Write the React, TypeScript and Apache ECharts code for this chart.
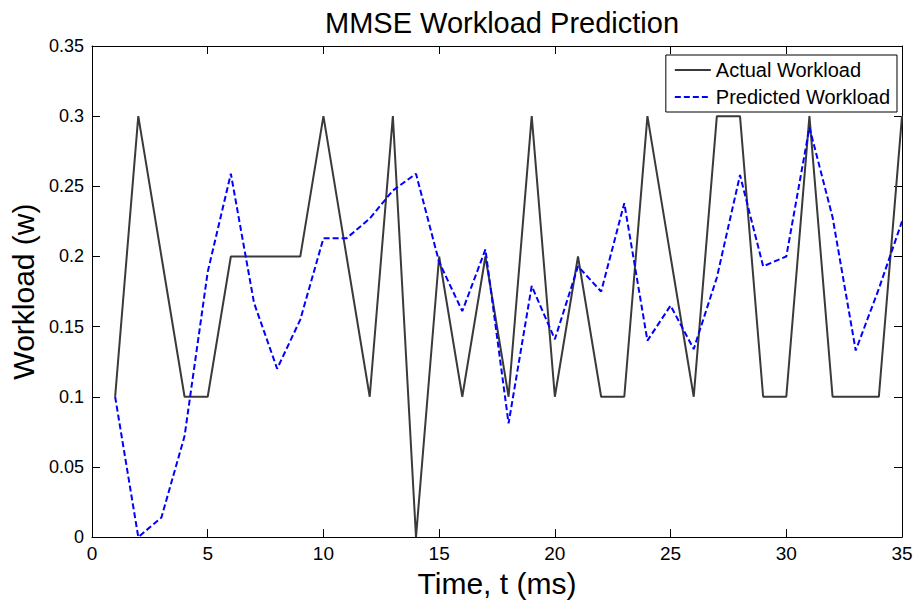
import React, { useEffect, useRef } from "react";
import * as echarts from "echarts";

const times = [1, 2, 3, 4, 5, 6, 7, 8, 9, 10, 11, 12, 13, 14, 15, 16, 17, 18, 19, 20, 21, 22, 23, 24, 25, 26, 27, 28, 29, 30, 31, 32, 33, 34, 35];
const actualWorkload = [0.1, 0.3, 0.2, 0.1, 0.1, 0.2, 0.2, 0.2, 0.2, 0.3, 0.2, 0.1, 0.3, 0.0, 0.2, 0.1, 0.2, 0.1, 0.3, 0.1, 0.2, 0.1, 0.1, 0.3, 0.2, 0.1, 0.3, 0.3, 0.1, 0.1, 0.3, 0.1, 0.1, 0.1, 0.3];
const predictedWorkload = [0.1, 0.0, 0.014, 0.072, 0.189, 0.259, 0.167, 0.12, 0.155, 0.213, 0.213, 0.227, 0.247, 0.259, 0.196, 0.161, 0.205, 0.081, 0.179, 0.141, 0.193, 0.175, 0.238, 0.14, 0.165, 0.134, 0.185, 0.258, 0.193, 0.2, 0.292, 0.228, 0.133, 0.177, 0.225];
const xTicks = [0, 5, 10, 15, 20, 25, 30, 35];
const yTicks = [0, 0.05, 0.1, 0.15, 0.2, 0.25, 0.3, 0.35];

const FONT = "'Liberation Sans', Arial, sans-serif";

export default function App() {
  const ref = useRef<HTMLDivElement>(null);
  useEffect(() => {
    if (!ref.current) return;
    const chart = echarts.init(ref.current, null, { renderer: "svg" });
    const axisCommon = {
      axisLine: { show: true, onZero: false, lineStyle: { color: "#000", width: 1 } },
      axisTick: { show: true, inside: true, length: 8, lineStyle: { color: "#000", width: 1 } },
      splitLine: { show: false },
    };
    const xMin = xTicks[0];
    const xMax = xTicks[xTicks.length - 1];
    const xInt = xTicks[1] - xTicks[0];
    const yMin = yTicks[0];
    const yMax = yTicks[yTicks.length - 1];
    const yInt = yTicks[1] - yTicks[0];
    chart.setOption({
      animation: false,
      backgroundColor: "#fff",
      textStyle: { fontFamily: FONT },
      title: {
        text: "MMSE Workload Prediction",
        left: 497,
        textAlign: "center",
        top: 3,
        textStyle: { fontFamily: FONT, fontSize: 29, fontWeight: "normal", color: "#000" },
      },
      grid: { left: 92, right: 15, top: 46, bottom: 62, containLabel: false },
      legend: {
        orient: "vertical",
        right: 20,
        top: 55,
        padding: [5, 7, 5, 8],
        itemWidth: 36,
        itemHeight: 14,
        itemGap: 7,
        borderColor: "#000",
        borderWidth: 1,
        backgroundColor: "#fff",
        borderRadius: 0,
        itemStyle: { opacity: 0 },
        textStyle: { fontFamily: FONT, fontSize: 20, color: "#000", padding: [0, 0, 0, 0] },
        data: ["Actual Workload", "Predicted Workload"],
      },
      xAxis: [
        {
          type: "value",
          min: xMin,
          max: xMax,
          interval: xInt,
          position: "bottom",
          name: "Time, t (ms)",
          nameLocation: "middle",
          nameGap: 25,
          nameTextStyle: { fontFamily: FONT, fontSize: 30, color: "#000" },
          axisLabel: { fontFamily: FONT, fontSize: 19, color: "#000", margin: 7 },
          ...axisCommon,
        },
        {
          type: "value",
          min: xMin,
          max: xMax,
          interval: xInt,
          position: "top",
          axisLabel: { show: false },
          ...axisCommon,
        },
      ],
      yAxis: [
        {
          type: "value",
          min: yMin,
          max: yMax,
          interval: yInt,
          position: "left",
          name: "Workload (w)",
          nameLocation: "middle",
          nameGap: 53,
          nameTextStyle: { fontFamily: FONT, fontSize: 30, color: "#000" },
          axisLabel: { fontFamily: FONT, fontSize: 18, color: "#000", margin: 8 },
          ...axisCommon,
        },
        {
          type: "value",
          min: yMin,
          max: yMax,
          interval: yInt,
          position: "right",
          axisLabel: { show: false },
          ...axisCommon,
        },
      ],
      series: [
        {
          name: "Actual Workload",
          type: "line",
          data: times.map((t, i) => [t, actualWorkload[i]]),
          symbol: "none",
          lineStyle: { color: "#3a3a3a", width: 2 },
          itemStyle: { color: "#3a3a3a" },
          z: 2,
        },
        {
          name: "Predicted Workload",
          type: "line",
          data: times.map((t, i) => [t, predictedWorkload[i]]),
          symbol: "none",
          lineStyle: { color: "#0000ff", width: 2, type: [6, 3] },
          itemStyle: { color: "#0000ff" },
          z: 3,
        },
      ],
    });
    return () => chart.dispose();
  }, []);
  return (
    <div
      ref={ref}
      style={{ position: "fixed", left: 0, top: 0, width: 917, height: 603, background: "#fff" }}
    />
  );
}
